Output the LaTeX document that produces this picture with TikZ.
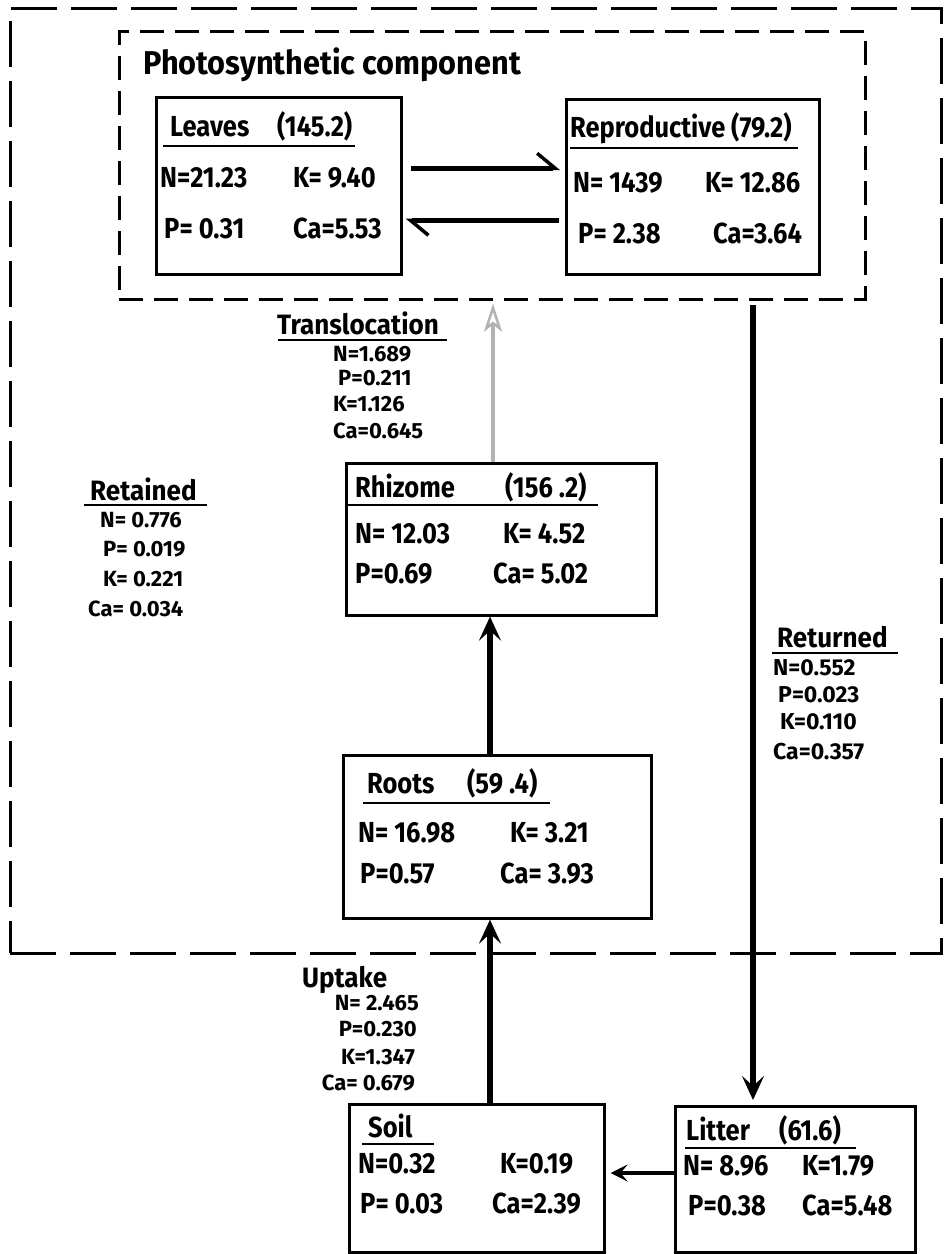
\documentclass[tikz,border=0pt]{standalone}
\usepackage{fontspec}
\setmainfont{Fira Sans}[FakeStretch=0.88]
\newfontfamily\hdfont{Fira Sans}[FakeStretch=0.93]
\newfontfamily\smfont{Fira Sans}[FakeStretch=1.0]
\usetikzlibrary{arrows.meta,calc}
\begin{document}
\begin{tikzpicture}[x=1pt,y=-1pt,
  box/.style={draw, line width=2.6pt, inner sep=0pt, anchor=north west},
  dashbox/.style={draw, line width=2.6pt, inner sep=0pt, anchor=north west},
  outerdash/.style={dash pattern=on 46pt off 14pt},
  innerdash/.style={dash pattern=on 24pt off 11pt},
  val/.style={anchor=base west, inner sep=0pt, font=\bfseries\fontsize{29}{29}\selectfont},
  small/.style={anchor=base west, inner sep=0pt, font=\smfont\bfseries\fontsize{22}{22}\selectfont},
  smalle/.style={anchor=base east, inner sep=0pt, font=\smfont\bfseries\fontsize{22}{22}\selectfont},
  head/.style={anchor=base west, inner sep=0pt, font=\hdfont\bfseries\fontsize{28}{28}\selectfont},
  uline/.style={line width=2pt},
  flow/.style={line width=5.5pt, -{Stealth[length=24pt,width=22pt,inset=10pt]}},
  harp/.style={line width=5pt, -{Straight Barb[harpoon,length=18pt,width=30pt,line width=3.5pt]}},
  trans/.style={line width=3.5pt, draw=gray!60, -{Stealth[open,length=28pt,width=18pt,inset=7pt,line width=2.5pt]}},
  side/.style={line width=4pt, -{Stealth[length=17pt,width=17pt,inset=7pt]}}
]
\useasboundingbox (0,0) rectangle (944,1254);
\clip (0,0) rectangle (944,1254);

% dashed system boundaries
\node[dashbox, outerdash, minimum width=931pt, minimum height=945pt] (system) at (9,7) {};
\node[dashbox, innerdash, minimum width=746pt, minimum height=268pt] (photo) at (118,30) {};
\node[anchor=base west, inner sep=0pt, font=\hdfont\bfseries\fontsize{33}{33}\selectfont] (phototitle) at (143,74) {Photosynthetic component};

% boxes
\node[box, minimum width=245pt, minimum height=177pt] (leaves) at (155,96) {};
\node[box, minimum width=253pt, minimum height=175pt] (repro) at (565,98) {};
\node[box, minimum width=310pt, minimum height=152pt] (rhizome) at (345,462) {};
\node[box, minimum width=308pt, minimum height=163pt] (roots) at (342,754) {};
\node[box, minimum width=255pt, minimum height=148pt] (soil) at (348,1103) {};
\node[box, minimum width=240pt, minimum height=146pt] (litter) at (674,1105) {};

% leaves
\node[val] (lvt) at (170,136) {Leaves};
\node[val] (lvm) at (277,136) {(145.2)};
\draw[uline] (163,146) -- (355,146);
\node[val] (lvn) at (160,187) {N=21.23};
\node[val] (lvk) at (293,187) {K= 9.40};
\node[val] (lvp) at (164,238) {P= 0.31};
\node[val] (lvc) at (293,238) {Ca=5.53};

% reproductive
\node[val] (rpt) at (570,137) {Reproductive};
\node[val] (rpm) at (731,137) {(79.2)};
\draw[uline] (570,148) -- (798,148);
\node[val] (rpn) at (573,192) {N= 1439};
\node[val] (rpk) at (705,192) {K= 12.86};
\node[val] (rpp) at (578,243) {P= 2.38};
\node[val] (rpc) at (713,243) {Ca=3.64};

% rhizome
\node[val] (rzt) at (355,497) {Rhizome};
\node[val] (rzm) at (505,497) {(156 .2)};
\draw[uline] (347,505) -- (598,505);
\node[val] (rzn) at (355,543) {N= 12.03};
\node[val] (rzk) at (503,543) {K= 4.52};
\node[val] (rzp) at (355,583) {P=0.69};
\node[val] (rzc) at (493,583) {Ca= 5.02};

% roots
\node[val] (rtt) at (367,793) {Roots};
\node[val] (rtm) at (467,793) {(59 .4)};
\draw[uline] (363,803) -- (550,803);
\node[val] (rtn) at (358,842) {N= 16.98};
\node[val] (rtk) at (510,842) {K= 3.21};
\node[val] (rtp) at (360,883) {P=0.57};
\node[val] (rtc) at (500,883) {Ca= 3.93};

% soil
\node[val] (slt) at (368,1137) {Soil};
\draw[uline] (362,1144) -- (434,1144);
\node[val] (sln) at (358,1173) {N=0.32};
\node[val] (slk) at (500,1173) {K=0.19};
\node[val] (slp) at (360,1213) {P= 0.03};
\node[val] (slc) at (492,1213) {Ca=2.39};

% litter
\node[val] (ltt) at (686,1140) {Litter};
\node[val] (ltm) at (779,1140) {(61.6)};
\draw[uline] (685,1148) -- (856,1148);
\node[val] (ltn) at (683,1175) {N= 8.96};
\node[val] (ltk) at (802,1175) {K=1.79};
\node[val] (ltp) at (688,1215) {P=0.38};
\node[val] (ltc) at (802,1215) {Ca=5.48};

% translocation label
\node[head] (trt) at (277,334) {Translocation};
\draw[uline] (278,340) -- (447,340);
\node[small] (trn) at (333,361) {N=1.689};
\node[small] (trp) at (338,385) {P=0.211};
\node[small] (trk) at (333,411) {K=1.126};
\node[small] (trc) at (333,438) {Ca=0.645};

% retained label
\node[head] (ret) at (90,500) {Retained};
\draw[uline] (84,505) -- (207,505);
\node[small] (ren) at (100,527) {N= 0.776};
\node[small] (rep) at (103,556) {P= 0.019};
\node[small] (rek) at (103,586) {K= 0.221};
\node[small] (rec) at (88,616) {Ca= 0.034};

% returned label
\node[head] (rnt) at (777,647) {Returned};
\draw[uline] (772,653) -- (898,653);
\node[small, font=\smfont\bfseries\fontsize{23}{23}\selectfont] (rnn) at (773,675) {N=0.552};
\node[small, font=\smfont\bfseries\fontsize{23}{23}\selectfont] (rnp) at (778,702) {P=0.023};
\node[small, font=\smfont\bfseries\fontsize{23}{23}\selectfont] (rnk) at (780,729) {K=0.110};
\node[small, font=\smfont\bfseries\fontsize{23}{23}\selectfont] (rnc) at (773,759) {Ca=0.357};

% uptake label
\node[head] (upt) at (302,987) {Uptake};
\node[smalle] (upn) at (419,1010) {N= 2.465};
\node[smalle] (upp) at (417,1036) {P=0.230};
\node[smalle] (upk) at (415,1064) {K=1.347};
\node[smalle] (upc) at (415,1090) {Ca= 0.679};

% connectors
\coordinate (upx) at (490,0);
\coordinate (trx) at (493,0);
\coordinate (retx) at (753,0);
\coordinate (lsy) at (0,1173);
\draw[harp] ([xshift=8pt,yshift=17.5pt]leaves.east) -- ([xshift=-5pt,yshift=18.5pt]repro.west);
\draw[harp] ([xshift=-6pt,yshift=-33.5pt]repro.west) -- ([xshift=3pt,yshift=-34.5pt]leaves.east);
\draw[trans] (rhizome.north -| trx) -- ([yshift=-3pt]photo.south -| trx);
\draw[flow] (roots.north -| upx) -- (rhizome.south -| upx);
\draw[flow] (soil.north -| upx) -- (roots.south -| upx);
\draw[flow] ([yshift=-4pt]photo.south -| retx) -- ([yshift=5pt]litter.north -| retx);
\draw[side] (litter.west |- lsy) -- ([xshift=5pt]soil.east |- lsy);
\end{tikzpicture}
\end{document}
